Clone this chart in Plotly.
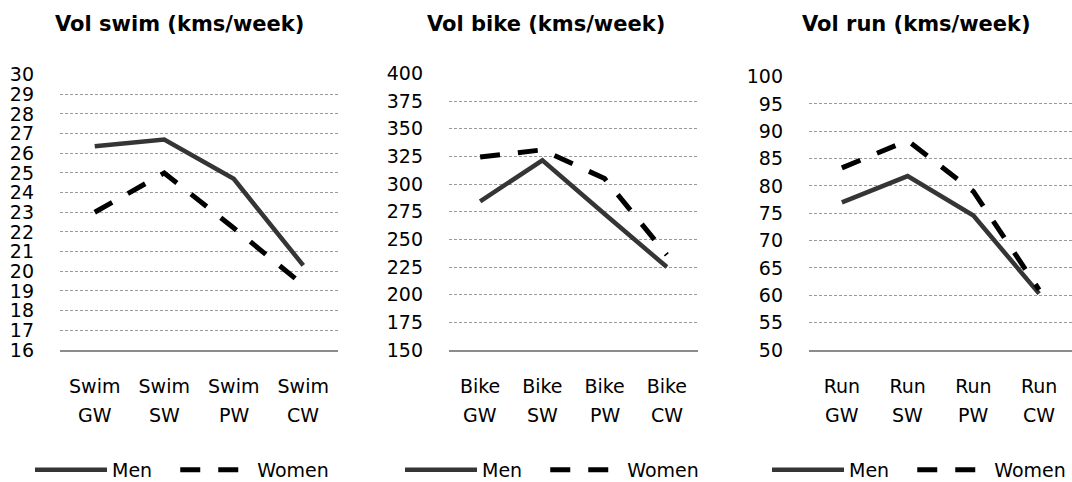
import plotly.graph_objects as go

W, H = 1072, 482

categories = ["GW", "SW", "PW", "CW"]
sports = ["Swim", "Bike", "Run"]
titles = ["Vol swim (kms/week)", "Vol bike (kms/week)", "Vol run (kms/week)"]

swim_men = [26.35, 26.7, 24.7, 20.3]
swim_women = [23.0, 25.0, 22.2, 19.3]
bike_men = [284.5, 321.5, 273, 225]
bike_women = [324.5, 331, 305, 236]
run_men = [77.0, 81.8, 74.6, 60.3]
run_women = [83.3, 88.3, 79.0, 61.0]

y_ranges = [[16, 30], [150, 400], [50, 100]]
y_dticks = [1, 25, 5]

men = [swim_men, bike_men, run_men]
women = [swim_women, bike_women, run_women]

FONT = "DejaVu Sans"

# pixel layout helpers
x_dom_px = [(60, 338), (449, 698), (809, 1072)]
y_top_px = [74, 73, 76]
y_bot_px = 350
title_x_px = [179, 546, 916]
legend_x_px = [30, 400, 767]

fig = go.Figure()

for i, sport in enumerate(sports):
    xs = [f"{sport} {c}" for c in categories]
    ax = "" if i == 0 else str(i + 1)
    lg = "legend" if i == 0 else f"legend{i + 1}"
    fig.add_trace(go.Scatter(
        x=xs, y=men[i], mode="lines", name="Men\u00a0\u00a0\u00a0",
        line=dict(color="#353535", width=4.5),
        xaxis="x" + ax, yaxis="y" + ax, legend=lg,
    ))
    fig.add_trace(go.Scatter(
        x=xs, y=women[i], mode="lines", name="Women",
        line=dict(color="#000000", width=5, dash="20px,18px"),
        xaxis="x" + ax, yaxis="y" + ax, legend=lg,
    ))

    xd = [x_dom_px[i][0] / W, x_dom_px[i][1] / W]
    yd = [1 - y_bot_px / H, 1 - y_top_px[i] / H]
    span = y_ranges[i][1] - y_ranges[i][0]
    fig.update_layout(**{
        "xaxis" + ax: dict(
            domain=xd, type="category", range=[-0.5, 3.5],
            tickmode="array", tickvals=xs, ticktext=[sport] * 4,
            showgrid=False, zeroline=False, showline=True,
            linecolor="#8c8c8c", linewidth=2, ticks="",
            tickfont=dict(family=FONT, size=19, color="#000000"),
            ticklabelstandoff=18, anchor="y" + ax, fixedrange=True,
            automargin=False,
        ),
        "yaxis" + ax: dict(
            domain=yd,
            range=[y_ranges[i][0], y_ranges[i][1] + span * 0.002],
            dtick=y_dticks[i], tick0=y_ranges[i][0],
            showgrid=True, gridcolor="#9a9a9a", gridwidth=1, griddash="3px,2px",
            zeroline=False, showline=False, ticks="",
            tickfont=dict(family=FONT, size=19, color="#000000"),
            ticklabelstandoff=25, anchor="x" + ax, fixedrange=True,
            automargin=False,
        ),
        lg: dict(
            orientation="h", x=legend_x_px[i] / W, xanchor="left",
            y=1 - 470 / H, yanchor="middle", itemwidth=72,
            font=dict(family=FONT, size=19, color="#000000"),
            bgcolor="rgba(0,0,0,0)", borderwidth=0,
        ),
    })

    for c, xv in zip(categories, xs):
        fig.add_annotation(
            x=xv, xref="x" + ax, y=1 - 415 / H, yref="paper",
            text=c, showarrow=False, yanchor="middle", xanchor="center",
            font=dict(family=FONT, size=19, color="#000000"),
        )

    fig.add_annotation(
        x=title_x_px[i] / W, xref="paper", y=1 - 24 / H, yref="paper",
        text=f"<b>{titles[i]}</b>", showarrow=False,
        xanchor="center", yanchor="middle",
        font=dict(family=FONT, size=21, color="#000000"),
    )

fig.update_layout(
    width=W, height=H,
    margin=dict(l=0, r=0, t=0, b=0, autoexpand=False),
    paper_bgcolor="white", plot_bgcolor="white",
    showlegend=True,
    font=dict(family=FONT, size=19, color="#000000"),
)

fig.write_html(
    "out.html",
    config={"displayModeBar": False},
    post_script="document.documentElement.style.margin='0';document.body.style.margin='0';document.body.style.overflow='hidden';",
)
